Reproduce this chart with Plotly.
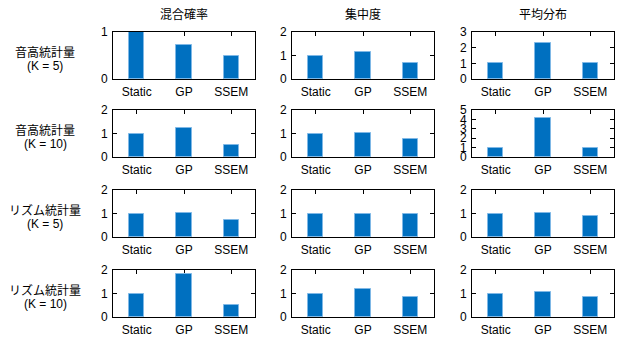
import plotly.graph_objects as go

# Categories and labels
categories = ["Static", "GP", "SSEM"]
metrics = ["混合確率", "集中度", "平均分布"]
row_names = ["音高統計量", "音高統計量", "リズム統計量", "リズム統計量"]
row_params = ["(K = 5)", "(K = 10)", "(K = 5)", "(K = 10)"]

# Values per row: one list per metric (Static, GP, SSEM)
pitch_k5 = [[1.00, 0.72, 0.49], [1.00, 1.15, 0.66], [1.00, 2.30, 1.00]]
pitch_k10 = [[1.00, 1.25, 0.53], [1.00, 1.03, 0.75], [1.00, 4.20, 1.00]]
rhythm_k5 = [[1.00, 1.01, 0.73], [1.00, 1.00, 0.97], [1.00, 1.04, 0.88]]
rhythm_k10 = [[1.00, 1.82, 0.49], [1.00, 1.20, 0.87], [1.00, 1.06, 0.86]]
rows = [pitch_k5, pitch_k10, rhythm_k5, rhythm_k10]

# Upper y limit of each panel
y_max = [[1, 2, 3], [2, 2, 5], [2, 2, 2], [2, 2, 2]]

W, H = 623, 340
col_left = [113, 292, 472]
panel_w = 142
row_top = [32, 110, 190, 270]
panel_h = 47

LATIN = "Liberation Sans, Arial, sans-serif"
CJK = "Noto Sans CJK JP, sans-serif"
BAR = "#0070c0"
EDGE = "#7fb8e6"

fig = go.Figure()
layout = {}
annotations = []

for r in range(4):
    for c in range(3):
        k = r * 3 + c + 1
        xa = "x" if k == 1 else f"x{k}"
        ya = "y" if k == 1 else f"y{k}"
        fig.add_trace(go.Bar(
            x=categories, y=rows[r][c], xaxis=xa, yaxis=ya,
            width=0.32,
            marker=dict(color=BAR, line=dict(color=EDGE, width=1)),
            showlegend=False, hoverinfo="skip",
        ))
        x0 = col_left[c] / W
        x1 = (col_left[c] + panel_w) / W
        y1 = 1 - row_top[r] / H
        y0 = 1 - (row_top[r] + panel_h) / H
        common = dict(showline=True, linecolor="black", linewidth=1,
                      mirror="allticks", ticks="inside", ticklen=4,
                      tickcolor="black", tickwidth=1, showgrid=False,
                      zeroline=False, layer="below traces", automargin=False,
                      ticklabelstandoff=2,
                      tickfont=dict(family=LATIN, size=12, color="black"))
        layout["xaxis" if k == 1 else f"xaxis{k}"] = dict(
            domain=[x0, x1], anchor=ya, range=[-0.5, 2.5],
            type="category", fixedrange=True, **common)
        layout["yaxis" if k == 1 else f"yaxis{k}"] = dict(
            domain=[y0, y1], anchor=xa, range=[0, y_max[r][c]],
            dtick=1, tick0=0, fixedrange=True, **common)

# Column titles
for c, m in enumerate(metrics):
    annotations.append(dict(
        text=m, x=(col_left[c] + panel_w / 2) / W, y=1 - 14 / H,
        xref="paper", yref="paper", showarrow=False,
        xanchor="center", yanchor="middle",
        font=dict(family=CJK, size=12, color="black")))

# Row labels
for r in range(4):
    yc = row_top[r] + panel_h / 2
    annotations.append(dict(
        text=row_names[r], x=45 / W, y=1 - (yc - 4) / H,
        xref="paper", yref="paper", showarrow=False,
        xanchor="center", yanchor="middle",
        font=dict(family=CJK, size=12, color="black")))
    annotations.append(dict(
        text=row_params[r], x=45 / W, y=1 - (yc + 10) / H,
        xref="paper", yref="paper", showarrow=False,
        xanchor="center", yanchor="middle",
        font=dict(family=LATIN, size=12, color="black")))

fig.update_layout(
    width=W, height=H, margin=dict(l=0, r=0, t=0, b=0),
    paper_bgcolor="white", plot_bgcolor="white",
    annotations=annotations, bargap=0, **layout)

fig.write_html("out.html")
